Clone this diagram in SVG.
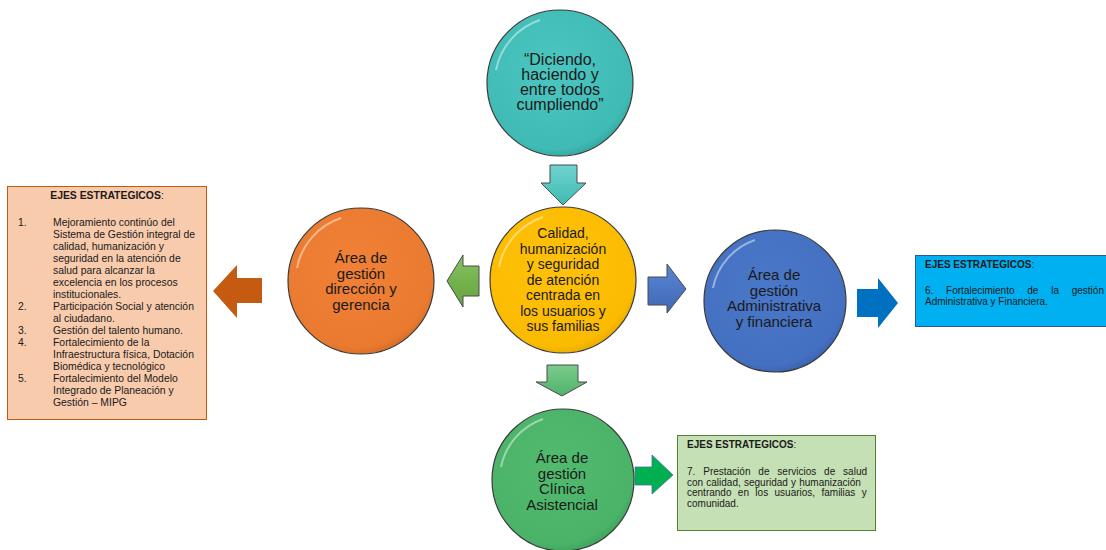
<svg xmlns="http://www.w3.org/2000/svg" width="1106" height="550" viewBox="0 0 1106 550">
<style>
.ct{font-family:"Liberation Sans",Arial,sans-serif;fill:#1a1a1a;text-anchor:middle}
.bt{font-family:"Liberation Sans",Arial,sans-serif;fill:#1a1a1a;font-size:10px}
.lt{font-family:"Liberation Sans",Arial,sans-serif;fill:#1a1a1a;font-size:10.4px}
.circ{stroke:#3a3a3a;stroke-width:1.2}
.hl{fill:none;stroke:#ffffff;stroke-opacity:0.45;stroke-width:2}
.bev{stroke:#4a4a4a;stroke-width:1}
</style>
<defs>
<radialGradient id="gTeal" cx="45%" cy="40%" r="65%"><stop offset="0" stop-color="#4cc6c0"/><stop offset="0.85" stop-color="#3fbab4"/><stop offset="1" stop-color="#2f9e98"/></radialGradient>
<radialGradient id="gYel" cx="45%" cy="40%" r="65%"><stop offset="0" stop-color="#ffc20a"/><stop offset="0.85" stop-color="#fbbb00"/><stop offset="1" stop-color="#e0a400"/></radialGradient>
<radialGradient id="gOr" cx="45%" cy="40%" r="65%"><stop offset="0" stop-color="#f08136"/><stop offset="0.85" stop-color="#ea7a30"/><stop offset="1" stop-color="#cf6622"/></radialGradient>
<radialGradient id="gBlue" cx="45%" cy="40%" r="65%"><stop offset="0" stop-color="#4a78c8"/><stop offset="0.85" stop-color="#4470c2"/><stop offset="1" stop-color="#365ea8"/></radialGradient>
<radialGradient id="gGrn" cx="45%" cy="40%" r="65%"><stop offset="0" stop-color="#52ba6f"/><stop offset="0.85" stop-color="#4ab368"/><stop offset="1" stop-color="#3a9a55"/></radialGradient>
<linearGradient id="aTeal" x1="0" y1="0" x2="0" y2="1"><stop offset="0" stop-color="#6fd3ce"/><stop offset="1" stop-color="#3fbab4"/></linearGradient>
<linearGradient id="aGrnL" x1="0" y1="0" x2="0" y2="1"><stop offset="0" stop-color="#86c262"/><stop offset="1" stop-color="#63a33c"/></linearGradient>
<linearGradient id="aBlue" x1="0" y1="0" x2="0" y2="1"><stop offset="0" stop-color="#5b86d2"/><stop offset="1" stop-color="#3e68b8"/></linearGradient>
<linearGradient id="aGrnD" x1="0" y1="0" x2="0" y2="1"><stop offset="0" stop-color="#7ccc8c"/><stop offset="1" stop-color="#4fb26a"/></linearGradient>
</defs>
<rect width="1106" height="550" fill="#ffffff"/>

<g id="connectors">
<path class="bev" d="M550,165 H577 V183 H586 L563,205 L541,183 H550 Z" fill="url(#aTeal)"/>
<path class="bev" d="M547,365 H578 V382 H587 L562,396 L536,382 H547 Z" fill="url(#aGrnD)"/>
<path class="bev" d="M479,266 V296 H463 V307 L447,281 L463,255 V266 Z" fill="url(#aGrnL)"/>
<path class="bev" d="M648,277 H667 V264 L686,289 L667,313 V305 H648 Z" fill="url(#aBlue)"/>
<path d="M262,278 V303 H237 V318 L213,291 L237,265 V278 Z" fill="#c55a11"/>
<path d="M857,289 H878 V278 L898,303 L878,328 V317 H857 Z" fill="#0070c0"/>
<path d="M635,467 H652 V455 L673,475 L652,494 V485 H635 Z" fill="#00b050" stroke="#41719c" stroke-width="0.8"/>
</g>

<g id="node-top">
<circle class="circ" cx="560" cy="83" r="73" fill="url(#gTeal)"/>
<path class="hl" d="M496,70 A66,66 0 0 1 540,20"/>
<text class="ct" font-size="16" x="560"><tspan x="560" y="65">“Diciendo,</tspan><tspan x="560" y="80">haciendo y</tspan><tspan x="560" y="95">entre todos</tspan><tspan x="560" y="110">cumpliendo”</tspan></text>
</g>

<g id="node-center">
<circle class="circ" cx="563" cy="280" r="73" fill="url(#gYel)"/>
<path class="hl" d="M499,267 A66,66 0 0 1 543,217"/>
<text class="ct" font-size="14"><tspan x="563" y="238">Calidad,</tspan><tspan x="563" y="253.5">humanización</tspan><tspan x="563" y="269">y seguridad</tspan><tspan x="563" y="284.5">de atención</tspan><tspan x="563" y="300">centrada en</tspan><tspan x="563" y="315.5">los usuarios y</tspan><tspan x="563" y="331">sus familias</tspan></text>
</g>

<g id="node-direccion">
<circle class="circ" cx="361" cy="281" r="73" fill="url(#gOr)"/>
<path class="hl" d="M297,268 A66,66 0 0 1 341,218"/>
<text class="ct" font-size="15"><tspan x="361" y="263">Área de</tspan><tspan x="361" y="278.5">gestión</tspan><tspan x="361" y="294">dirección y</tspan><tspan x="361" y="309.5">gerencia</tspan></text>
</g>

<g id="node-administrativa">
<circle class="circ" cx="775" cy="301" r="71" fill="url(#gBlue)"/>
<path class="hl" d="M713,288 A64,64 0 0 1 755,240"/>
<text class="ct" font-size="15"><tspan x="774" y="280">Área de</tspan><tspan x="774" y="295.5">gestión</tspan><tspan x="774" y="311">Administrativa</tspan><tspan x="774" y="326.5">y financiera</tspan></text>
</g>

<g id="node-clinica">
<circle class="circ" cx="563" cy="480" r="71" fill="url(#gGrn)"/>
<path class="hl" d="M501,467 A64,64 0 0 1 543,419"/>
<text class="ct" font-size="15"><tspan x="562" y="463">Área de</tspan><tspan x="562" y="478.5">gestión</tspan><tspan x="562" y="494">Clínica</tspan><tspan x="562" y="509.5">Asistencial</tspan></text>
</g>

<g id="box-left">
<rect x="7.5" y="186.5" width="199" height="233" fill="#f8cbad" stroke="#c55a11" stroke-width="1"/>
<text class="lt" x="107" y="199" text-anchor="middle"><tspan font-weight="bold">EJES ESTRATEGICOS</tspan>:</text>
<text class="lt"><tspan x="18" y="225.5">1.</tspan><tspan x="18" y="309.5">2.</tspan><tspan x="18" y="333.5">3.</tspan><tspan x="18" y="345.5">4.</tspan><tspan x="18" y="381.5">5.</tspan></text>
<text class="lt"><tspan x="53" y="225.5">Mejoramiento continúo del</tspan><tspan x="53" y="237.5">Sistema de Gestión integral de</tspan><tspan x="53" y="249.5">calidad, humanización y</tspan><tspan x="53" y="261.5">seguridad en la atención de</tspan><tspan x="53" y="273.5">salud para alcanzar la</tspan><tspan x="53" y="285.5">excelencia en los procesos</tspan><tspan x="53" y="297.5">institucionales.</tspan><tspan x="53" y="309.5">Participación Social y atención</tspan><tspan x="53" y="321.5">al ciudadano.</tspan><tspan x="53" y="333.5">Gestión del talento humano.</tspan><tspan x="53" y="345.5">Fortalecimiento de la</tspan><tspan x="53" y="357.5">Infraestructura física, Dotación</tspan><tspan x="53" y="369.5">Biomédica y tecnológico</tspan><tspan x="53" y="381.5">Fortalecimiento del Modelo</tspan><tspan x="53" y="393.5">Integrado de Planeación y</tspan><tspan x="53" y="405.5">Gestión – MIPG</tspan></text>
</g>

<g id="box-right">
<rect x="915.5" y="255.5" width="192" height="71" fill="#00b0f0" stroke="#2f5597" stroke-width="1"/>
<text class="bt" x="925" y="268"><tspan font-weight="bold">EJES ESTRATEGICOS</tspan>:</text>
<text class="bt"><tspan x="925" y="294" word-spacing="10">6. Fortalecimiento de la gestión</tspan><tspan x="925" y="304.5">Administrativa y Financiera.</tspan></text>
</g>

<g id="box-bottom">
<rect x="677.5" y="435.5" width="198" height="95" fill="#c5e0b4" stroke="#538135" stroke-width="1"/>
<text class="bt" x="687" y="448"><tspan font-weight="bold">EJES ESTRATEGICOS</tspan>:</text>
<text class="bt"><tspan x="687" y="475" word-spacing="5.1">7. Prestación de servicios de salud</tspan><tspan x="687" y="485.5" word-spacing="0.4">con calidad, seguridad y humanización</tspan><tspan x="687" y="496" word-spacing="3.6">centrando en los usuarios, familias y</tspan><tspan x="687" y="506.5">comunidad.</tspan></text>
</g>
</svg>
